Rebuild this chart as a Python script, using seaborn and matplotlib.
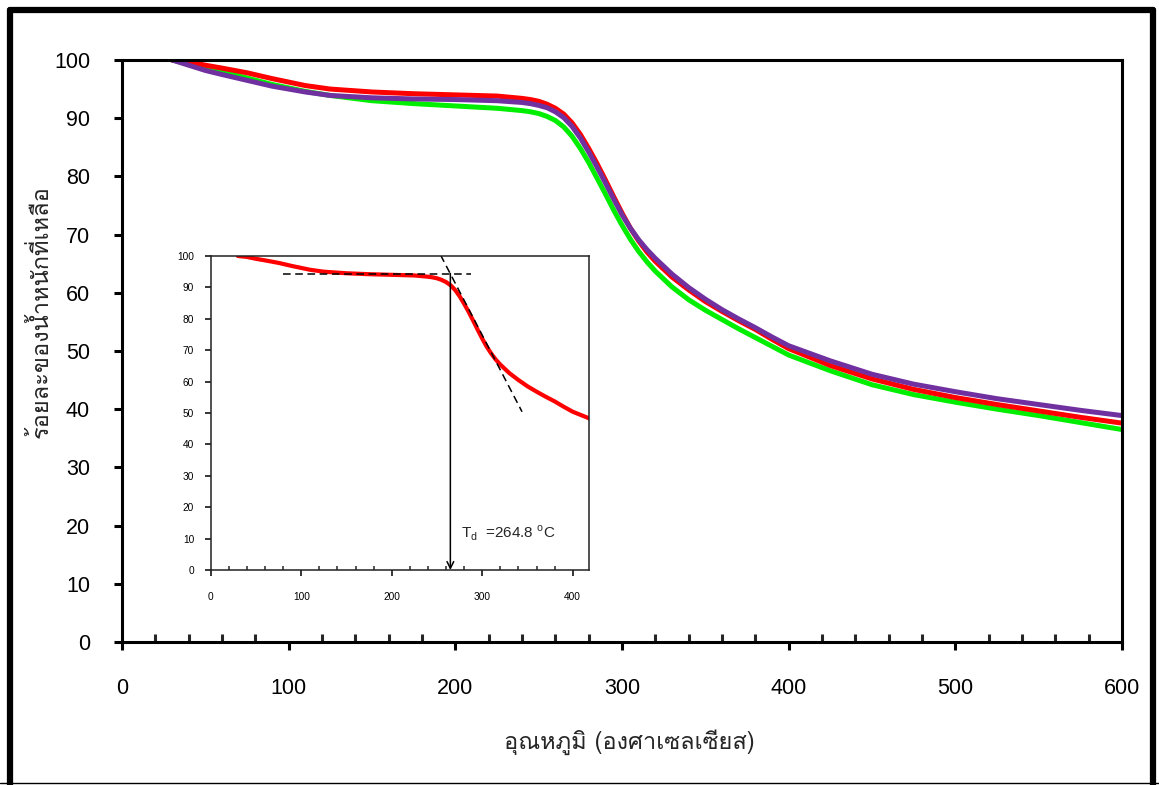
import pandas as pd
import seaborn as sns
import matplotlib.pyplot as plt
from matplotlib.lines import Line2D
from matplotlib.ticker import MultipleLocator
from matplotlib import font_manager

# อุณหภูมิ (C) และ ร้อยละน้ำหนักที่เหลือ อ่านจากกราฟ TGA
temp = [30, 40, 50, 60, 75, 90, 100, 110, 125, 150, 175, 200, 225, 240, 245, 250, 255, 260, 265,
        270, 275, 280, 285, 290, 295, 300, 305, 310, 315, 320, 330, 340, 350, 360, 370, 380, 390,
        400, 425, 450, 475, 500, 525, 550, 575, 600]
red_wt = [100, 99.7, 99.1, 98.6, 97.8, 96.8, 96.2, 95.6, 95.0, 94.5, 94.2, 94.0, 93.8, 93.4, 93.2,
          92.9, 92.4, 91.7, 90.7, 89.2, 87.2, 84.8, 82.2, 79.4, 76.5, 73.7, 71.1, 68.9, 67.0, 65.4,
          62.7, 60.5, 58.5, 56.8, 55.2, 53.7, 52.0, 50.4, 47.5, 45.2, 43.4, 42.0, 40.8, 39.7, 38.6, 37.6]
purple_wt = [100, 99.1, 98.2, 97.5, 96.5, 95.5, 95.0, 94.5, 93.9, 93.5, 93.3, 93.2, 93.0, 92.7, 92.5,
             92.2, 91.8, 91.1, 90.1, 88.6, 86.6, 84.2, 81.6, 78.9, 76.1, 73.4, 71.1, 69.1, 67.4, 65.9,
             63.2, 60.9, 58.9, 57.1, 55.5, 54.0, 52.4, 50.9, 48.3, 46.0, 44.3, 43.0, 41.8, 40.8, 39.8, 38.9]
green_wt = [100, 99.3, 98.6, 98.0, 96.9, 95.8, 95.2, 94.6, 93.9, 93.0, 92.5, 92.1, 91.7, 91.3, 91.1,
            90.8, 90.3, 89.6, 88.5, 86.9, 84.8, 82.4, 79.7, 77.0, 74.2, 71.6, 69.2, 67.1, 65.3, 63.7,
            61.0, 58.8, 57.0, 55.4, 53.8, 52.3, 50.8, 49.3, 46.6, 44.2, 42.5, 41.2, 40.0, 38.9, 37.7, 36.5]

# เส้นสัมผัสสำหรับหา Td (กราฟเล็ก)
base_x = [80, 288]
base_y = [94.4, 94.4]
tangent_x = [254, 344]
tangent_y = [100.3, 50.4]
td = 264.8


def find_thai_font():
    try:
        from fontTools.ttLib import TTFont
    except ImportError:
        return None
    for f in font_manager.fontManager.ttflist:
        try:
            if 0x0E2D in TTFont(f.fname, fontNumber=0, lazy=True).getBestCmap():
                return f.name
        except Exception:
            pass
    return None


sns.set_theme(style='white')
thai = find_thai_font()
thai_family = [thai, 'DejaVu Sans'] if thai else ['DejaVu Sans']
plt.rcParams['font.family'] = ['Liberation Sans', 'DejaVu Sans']
plt.rcParams['mathtext.fontset'] = 'custom'
plt.rcParams['mathtext.rm'] = 'Liberation Sans'

tabela = pd.concat([
    pd.DataFrame({'temp': temp, 'wt': green_wt, 'sample': 'green'}),
    pd.DataFrame({'temp': temp, 'wt': red_wt, 'sample': 'red'}),
    pd.DataFrame({'temp': temp, 'wt': purple_wt, 'sample': 'purple'}),
])
cores = {'green': '#00ee00', 'red': '#ff0000', 'purple': '#7030a0'}

fig = plt.figure(figsize=(11.59, 7.85), dpi=100)
ax = fig.add_axes([0.1053, 0.1822, 0.8628, 0.7414])
sns.lineplot(data=tabela, x='temp', y='wt', hue='sample', hue_order=['green', 'red', 'purple'],
             palette=cores, lw=3.6, legend=False, errorbar=None, ax=ax)
ax.set_xlim(0, 600)
ax.set_ylim(0, 100)
ax.xaxis.set_major_locator(MultipleLocator(100))
ax.xaxis.set_minor_locator(MultipleLocator(20))
ax.yaxis.set_major_locator(MultipleLocator(10))
for s in ax.spines.values():
    s.set_linewidth(2.2)
    s.set_color('black')
ax.tick_params(axis='both', which='major', direction='out', length=6, width=2.2,
               labelsize=15.5, colors='black')
ax.tick_params(axis='x', which='major', pad=20, bottom=True)
ax.tick_params(axis='y', which='major', pad=17, left=True)
ax.tick_params(axis='x', which='minor', direction='in', length=6, width=2.2, bottom=True)
ax.set_xlabel('')
ax.set_ylabel('')

fig.text(0.543, 1 - 742 / 785, 'อุณหภูมิ (องศาเซลเซียส)', ha='center', va='center',
         fontsize=17, family=thai_family)
fig.text(0.035, 1 - 312 / 785, 'ร้อยละของน้ำหนักที่เหลือ', ha='center', va='center',
         rotation=90, fontsize=17, family=thai_family)

# กราฟเล็ก
ins = fig.add_axes([0.1818, 0.2739, 0.3264, 0.4])
sns.lineplot(x=temp, y=red_wt, color='#ff0000', lw=3, ax=ins)
ins.plot(base_x, base_y, ls='--', color='black', lw=1.1, dashes=(5, 3))
ins.plot(tangent_x, tangent_y, ls='--', color='black', lw=1.1, dashes=(5, 3))
ins.annotate('', xy=(td, 0), xytext=(td, base_y[0]),
             arrowprops=dict(arrowstyle='->', color='black', lw=1.1, shrinkA=0, shrinkB=0))
ins.text(277, 11.7, r'T$_{\rm d}$  =264.8 $^{\rm o}$C', fontsize=11, va='center', ha='left')
ins.set_xlim(0, 418)
ins.set_ylim(0, 100)
ins.xaxis.set_major_locator(MultipleLocator(100))
ins.xaxis.set_minor_locator(MultipleLocator(20))
ins.yaxis.set_major_locator(MultipleLocator(10))
for s in ins.spines.values():
    s.set_linewidth(1.1)
    s.set_color('#222222')
ins.tick_params(axis='both', which='major', direction='out', length=4, width=1.1,
                labelsize=7.3, colors='black')
ins.tick_params(axis='x', which='major', pad=12, bottom=True)
ins.tick_params(axis='y', which='major', pad=8, left=True)
ins.tick_params(axis='x', which='minor', direction='in', length=3, width=1.1, bottom=True)

# กรอบรอบภาพ
for xs, ys, w in [([10 / 1159, 10 / 1159], [0.0, 1 - 10 / 785], 4.5),
                  ([10 / 1159, 1153 / 1159], [1 - 10 / 785, 1 - 10 / 785], 4.5),
                  ([1153 / 1159, 1153 / 1159], [1 - 10 / 785, 0.0], 4.5),
                  ([0.0, 1.0], [2 / 785, 2 / 785], 1.0)]:
    fig.add_artist(Line2D(xs, ys, transform=fig.transFigure, color='black', lw=w))

fig.savefig('out.png', dpi=100)
